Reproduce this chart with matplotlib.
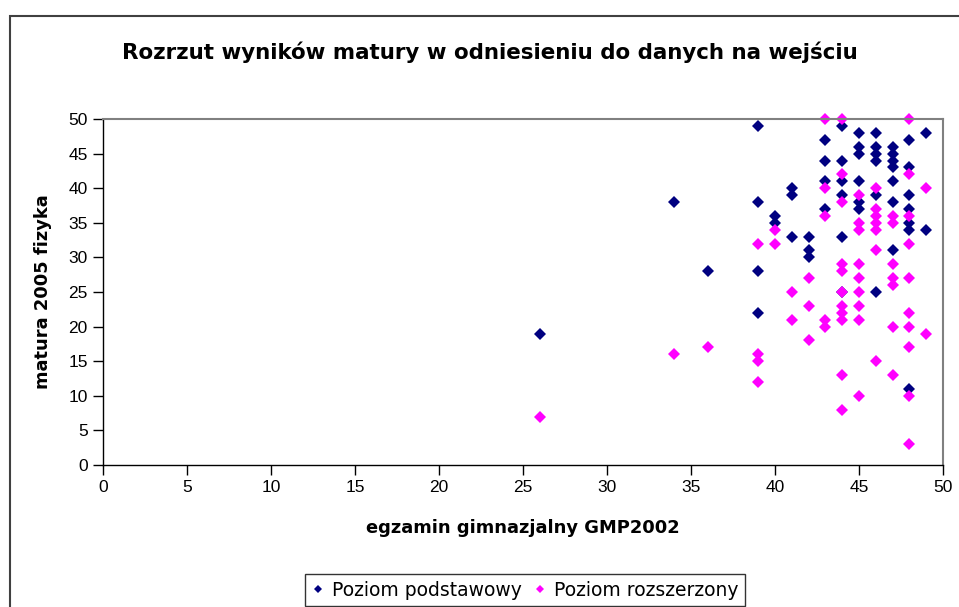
import matplotlib
matplotlib.use("Agg")
import matplotlib.pyplot as plt
from matplotlib.patches import Rectangle

plt.rcParams['font.family'] = ['Liberation Sans', 'DejaVu Sans']

# poziom podstawowy (x = GMP2002, y = matura fizyka)
podst_x = [26, 34, 36,
           39, 39, 39, 39,
           40, 40,
           41, 41, 41,
           42, 42, 42,
           43, 43, 43, 43,
           44, 44, 44, 44, 44, 44,
           45, 45, 45, 45, 45, 45,
           46, 46, 46, 46, 46, 46,
           47, 47, 47, 47, 47, 47, 47,
           48, 48, 48, 48, 48, 48, 48,
           49, 49]
podst_y = [19, 38, 28,
           49, 38, 28, 22,
           36, 35,
           40, 39, 33,
           33, 31, 30,
           47, 44, 41, 37,
           49, 44, 41, 39, 33, 25,
           48, 46, 45, 41, 38, 37,
           48, 46, 45, 44, 39, 25,
           46, 45, 44, 43, 41, 38, 31,
           47, 43, 39, 37, 35, 34, 11,
           48, 34]

# poziom rozszerzony
rozsz_x = [26, 34, 36,
           39, 39, 39, 39,
           40, 40,
           41, 41,
           42, 42, 42,
           43, 43, 43, 43, 43,
           44, 44, 44, 44, 44, 44, 44, 44, 44, 44, 44,
           45, 45, 45, 45, 45, 45, 45, 45, 45,
           46, 46, 46, 46, 46, 46, 46,
           47, 47, 47, 47, 47, 47, 47,
           48, 48, 48, 48, 48, 48, 48, 48, 48, 48,
           49, 49]
rozsz_y = [7, 16, 17,
           32, 16, 15, 12,
           34, 32,
           25, 21,
           27, 23, 18,
           50, 40, 36, 21, 20,
           50, 42, 38, 29, 28, 25, 23, 22, 21, 13, 8,
           39, 35, 34, 29, 27, 25, 23, 21, 10,
           40, 37, 36, 35, 34, 31, 15,
           36, 35, 29, 27, 26, 20, 13,
           50, 42, 36, 32, 27, 22, 20, 17, 10, 3,
           40, 19]

fig = plt.figure(figsize=(9.59, 6.07), dpi=100)
fig.patches.append(Rectangle((10 / 959, -0.05), 1.0, 1 - 16 / 607 + 0.05,
                             transform=fig.transFigure, fill=False,
                             edgecolor='#404040', linewidth=1.5))

ax = fig.add_axes([103 / 959, 1 - 465 / 607, 840 / 959, 346 / 607])
ax.plot(podst_x, podst_y, 'D', color='#000080', markersize=6.0,
        markeredgewidth=0, label='Poziom podstawowy', clip_on=False)
ax.plot(rozsz_x, rozsz_y, 'D', color='#FF00FF', markersize=6.0,
        markeredgewidth=0, label='Poziom rozszerzony', clip_on=False)

ax.set_xlim(0, 50)
ax.set_ylim(0, 50)
ax.set_xticks(range(0, 51, 5))
ax.set_yticks(range(0, 51, 5))
ax.tick_params(direction='out', length=7, width=1, labelsize=12.5, pad=4)
for s in ['top', 'right']:
    ax.spines[s].set_color('#808080')
    ax.spines[s].set_linewidth(1.5)
for s in ['left', 'bottom']:
    ax.spines[s].set_linewidth(1)

wide = ['DejaVu Sans']
ax.set_xlabel('egzamin gimnazjalny GMP2002', fontsize=12.9, family=wide,
              fontweight='bold', labelpad=17)
ax.set_ylabel('matura 2005 fizyka', fontsize=12.9, family=wide,
              fontweight='bold', labelpad=12)
fig.text(490 / 959, 1 - 52 / 607,
         'Rozrzut wyników matury w odniesieniu do danych na wejściu',
         ha='center', va='center', fontsize=15.4, family=wide,
         fontweight='bold')

leg = fig.legend(loc='center', bbox_to_anchor=(525 / 959, 1 - 590 / 607),
                 ncol=2, prop={'family': wide, 'size': 13.5},
                 frameon=True, fancybox=False,
                 handlelength=0.7, handletextpad=0.4, columnspacing=0.6,
                 borderpad=0.35, markerscale=0.75)
leg.get_frame().set_edgecolor('black')
leg.get_frame().set_linewidth(1)

fig.savefig('out.png', dpi=100)
